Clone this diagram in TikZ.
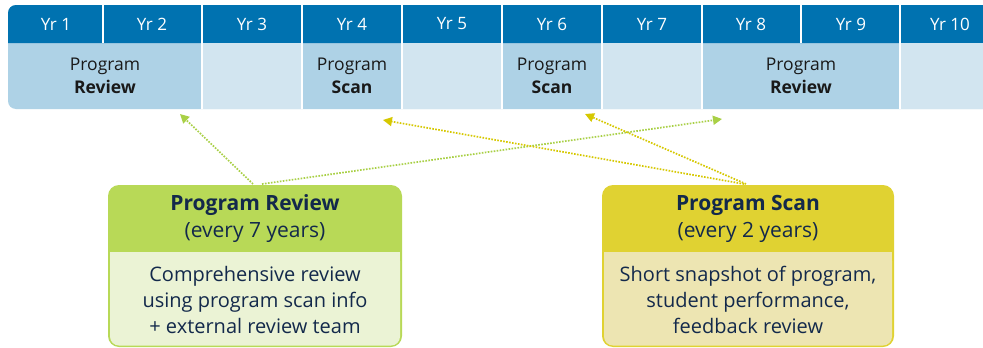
\documentclass[tikz,border=0pt]{standalone}
\usepackage{fontspec}
\setmainfont{Open Sans}
\usetikzlibrary{arrows.meta}
\definecolor{hdrblue}{HTML}{0072B0}
\definecolor{celldark}{HTML}{AED2E6}
\definecolor{celllight}{HTML}{D2E5F0}
\definecolor{revgreen}{HTML}{B8D957}
\definecolor{revbody}{HTML}{EBF3D5}
\definecolor{scanyel}{HTML}{E0D232}
\definecolor{scanbody}{HTML}{EDE5B2}
\definecolor{navy}{HTML}{13294B}
\definecolor{arrgreen}{HTML}{A9D046}
\definecolor{arryel}{HTML}{D6C800}
\tikzset{
  yrtext/.style={text=white, font=\fontsize{17}{18}\selectfont, inner sep=0pt},
  celltext/.style={text=black!90, font=\fontsize{17.5}{23}\selectfont, align=center, inner sep=0pt},
  titletext/.style={text=navy, font=\fontsize{21}{27}\selectfont, align=center, inner sep=0pt},
  bodytext/.style={text=navy, font=\fontsize{20}{26}\selectfont, align=center, inner sep=0pt},
  sep/.style={white, line width=1.5pt},
  linkarrow/.style={line width=1.7pt, dash pattern=on 1.6pt off 1.4pt, -{Triangle[length=9pt,width=9pt]}},
}
\begin{document}
\begin{tikzpicture}[x=1pt,y=-1pt]
\clip (0,0) rectangle (983,348);
\fill[white] (0,0) rectangle (983,348);
% table
\fill[celldark, rounded corners=8pt] (8,5) rectangle (1010,109);
\fill[hdrblue, rounded corners=8pt] (8,5) rectangle (1010,43) [sharp corners] (8,30) rectangle (1010,43);
\fill[celllight] (202,43) rectangle (302,109);
\fill[celllight] (402,43) rectangle (502,109);
\fill[celllight] (602,43) rectangle (702,109);
\fill[celllight] (900,43) rectangle (1010,109);
\draw[sep] (103,5) -- (103,43);
\draw[sep] (801,5) -- (801,43);
\foreach \x in {202,302,402,502,602,702,900} \draw[sep] (\x,5) -- (\x,109);
% header labels
\node[yrtext] (yr1) at (56,24) {Yr 1};
\node[yrtext] (yr2) at (152,24) {Yr 2};
\node[yrtext] (yr3) at (252,24) {Yr 3};
\node[yrtext] (yr4) at (352,24) {Yr 4};
\node[yrtext] (yr5) at (452,24) {Yr 5};
\node[yrtext] (yr6) at (552,24) {Yr 6};
\node[yrtext] (yr7) at (652,24) {Yr 7};
\node[yrtext] (yr8) at (751,24) {Yr 8};
\node[yrtext] (yr9) at (851,24) {Yr 9};
\node[yrtext] (yr10) at (950,24) {Yr 10};
% lower row labels
\node[celltext] (rev1) at (105,76) {Program\\\textbf{Review}};
\node[celltext] (scan4) at (352,76) {Program\\\textbf{Scan}};
\node[celltext] (scan6) at (552,76) {Program\\\textbf{Scan}};
\node[celltext] (rev8) at (801,76) {Program\\\textbf{Review}};
% review box
\fill[revgreen, rounded corners=11pt] (108,185) rectangle (402,347);
\fill[revbody, rounded corners=9pt] (110,252) rectangle (400,345.5);
\fill[revbody] (110,252) rectangle (400,300);
\node[titletext] (revtitle) at (255,219) {\textbf{Program Review}\\(every 7 years)};
\node[bodytext] (revbodyt) at (255,300) {Comprehensive review\\using program scan info\\+ external review team};
% scan box
\fill[scanyel, rounded corners=11pt] (602,185) rectangle (894,347);
\fill[scanbody, rounded corners=9pt] (604,252) rectangle (892,345.5);
\fill[scanbody] (604,252) rectangle (892,300);
\node[titletext] (scantitle) at (748,219) {\textbf{Program Scan}\\(every 2 years)};
\node[bodytext] (scanbodyt) at (748,300) {Short snapshot of program,\\student performance,\\feedback review};
% connector end points
\coordinate (rs1) at (253,184);
\coordinate (rs2) at (262,184);
\coordinate (ss1) at (744,184);
\coordinate (ss2) at (746,184);
\coordinate (t2) at (180,114);
\coordinate (t8) at (722,119);
\coordinate (t4) at (383,120);
\coordinate (t6) at (585,114);
\draw[linkarrow, arrgreen] (rs1) -- (t2);
\draw[linkarrow, arrgreen] (rs2) -- (t8);
\draw[linkarrow, arryel] (ss1) -- (t4);
\draw[linkarrow, arryel] (ss2) -- (t6);
\end{tikzpicture}
\end{document}
